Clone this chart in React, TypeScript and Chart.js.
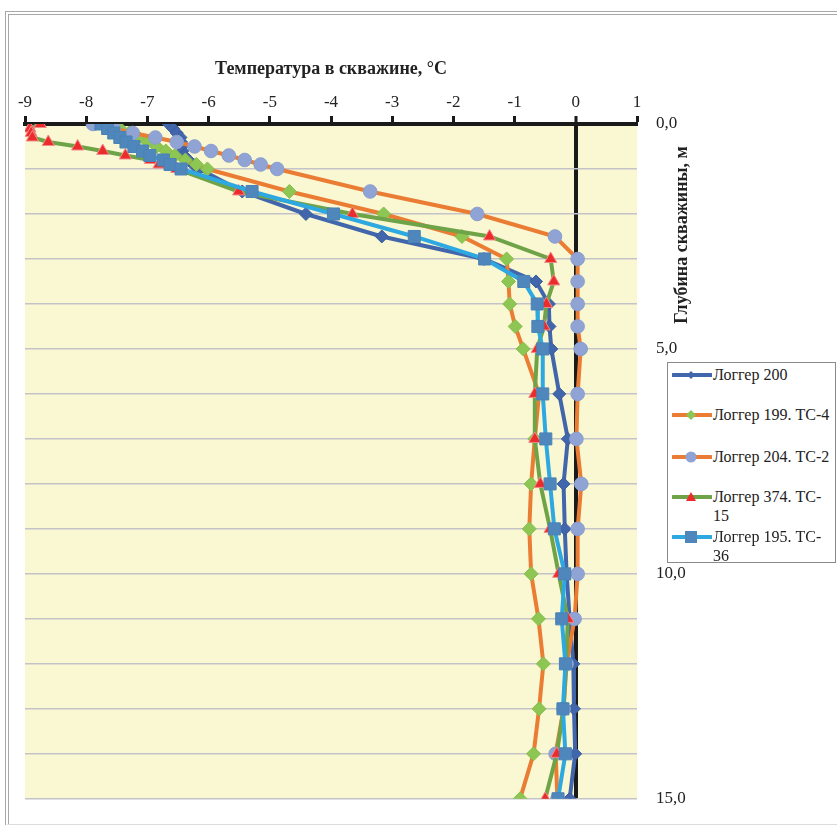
import React, { useEffect, useRef } from 'react';
import { Chart, registerables } from 'chart.js';

Chart.register(...registerables);

// Depth of each measurement, m
const depths = [0, 0.1, 0.2, 0.3, 0.4, 0.5, 0.6, 0.7, 0.8, 0.9, 1.0, 1.5, 2, 2.5, 3, 3.5, 4, 4.5, 5, 6, 7, 8, 9, 10, 11, 12, 13, 14, 15];

// Temperatures, °C
const logger200 = [-6.65, -6.58, -6.52, -6.46, -6.45, -6.44, -6.43, -6.4, -6.33, -6.25, -6.15, -5.45, -4.41, -3.17, -1.5, -0.65, -0.44, -0.43, -0.4, -0.27, -0.13, -0.2, -0.18, -0.15, -0.1, -0.04, -0.03, -0.01, -0.1];
const logger199 = [-7.58, -7.45, -7.3, -7.15, -7.0, -6.85, -6.7, -6.55, -6.38, -6.2, -6.02, -4.68, -3.14, -1.86, -1.13, -1.1, -1.08, -0.99, -0.86, -0.6, -0.67, -0.73, -0.76, -0.73, -0.61, -0.53, -0.6, -0.69, -0.91];
const logger204 = [-7.89, -7.55, -7.24, -6.87, -6.52, -6.23, -5.96, -5.67, -5.41, -5.15, -4.88, -3.36, -1.61, -0.34, 0.03, 0.03, 0.03, 0.03, 0.08, 0.03, 0.01, 0.09, 0.03, 0.03, -0.02, -0.15, -0.2, -0.33, -0.3];
const logger374 = [-8.75, -8.92, -8.9, -8.88, -8.62, -8.14, -7.73, -7.36, -6.95, -6.81, -6.52, -5.51, -3.65, -1.41, -0.41, -0.36, -0.48, -0.52, -0.63, -0.67, -0.67, -0.58, -0.42, -0.28, -0.13, -0.16, -0.2, -0.31, -0.5];
const logger195 = [-7.76, -7.65, -7.55, -7.45, -7.35, -7.22, -7.08, -6.96, -6.74, -6.63, -6.45, -5.29, -3.96, -2.64, -1.49, -0.85, -0.63, -0.62, -0.54, -0.54, -0.49, -0.42, -0.35, -0.18, -0.23, -0.17, -0.21, -0.17, -0.29];

const seriesLabels = ['Логгер 200', 'Логгер 199. ТС-4', 'Логгер 204. ТС-2', 'Логгер 374. ТС-15', 'Логгер 195. ТС-36'];
const legendLines = [['Логгер 200'], ['Логгер 199. ТС-4'], ['Логгер 204. ТС-2'], ['Логгер 374. ТС-', '15'], ['Логгер 195. ТС-', '36']];

const xTitle = 'Температура в скважине, °C';
const yTitle = 'Глубина скважины, м';
const xMin = -9;
const xMax = 1;
const yMin = 0;
const yMax = 15;

const FONT = "'Liberation Serif', 'Times New Roman', serif";

const styles = [
  { line: '#4266AC', marker: '#4266AC', border: '#3A5C9E', shape: 'rectRot', r: 6.5 },
  { line: '#EA7D33', marker: '#8DC653', border: '#86BE4E', shape: 'rectRot', r: 7 },
  { line: '#EA7D33', marker: '#8FA3D4', border: '#8A9ECF', shape: 'circle', r: 6.8 },
  { line: '#6FA347', marker: '#EC2B2B', border: '#F28A8A', shape: 'triangle', r: 7 },
  { line: '#2DA8E0', marker: '#4F87BC', border: '#4A82B6', shape: 'rect', r: 8.5 },
];

const seriesValues = [logger200, logger199, logger204, logger374, logger195];

const bgPlugin = {
  id: 'plotBg',
  beforeDraw(chart: any) {
    const { ctx, chartArea } = chart;
    ctx.save();
    ctx.fillStyle = '#FAF7D3';
    ctx.fillRect(chartArea.left, chartArea.top, chartArea.right - chartArea.left, chartArea.bottom - chartArea.top);
    ctx.restore();
  },
};

const yTitlePlugin = {
  id: 'yTitle',
  afterDraw(chart: any) {
    const { ctx } = chart;
    ctx.save();
    ctx.translate(682, 235);
    ctx.rotate(-Math.PI / 2);
    ctx.font = `bold 18px ${FONT}`;
    ctx.fillStyle = '#222';
    ctx.textAlign = 'center';
    ctx.textBaseline = 'middle';
    ctx.fillText(yTitle, 0, 0);
    ctx.restore();
  },
};

function LegendMarker({ i }: { i: number }) {
  const s = styles[i];
  let shape: any = null;
  const cx = 19, cy = 6;
  if (s.shape === 'rectRot') {
    const r = i === 0 ? 4 : 5;
    shape = <polygon points={`${cx},${cy - r} ${cx + r},${cy} ${cx},${cy + r} ${cx - r},${cy}`} fill={s.marker} />;
  } else if (s.shape === 'circle') {
    shape = <circle cx={cx} cy={cy} r={5.5} fill={s.marker} />;
  } else if (s.shape === 'triangle') {
    shape = <polygon points={`${cx},${cy - 5} ${cx + 5},${cy + 4} ${cx - 5},${cy + 4}`} fill={s.marker} />;
  } else {
    shape = <rect x={cx - 6} y={cy - 6} width={12} height={12} fill={s.marker} />;
  }
  return (
    <svg width={40} height={12} style={{ position: 'absolute', left: 4, top: 4 }}>
      <line x1={1} y1={cy} x2={39} y2={cy} stroke={s.line} strokeWidth={4} strokeLinecap="round" />
      {shape}
    </svg>
  );
}

export default function App() {
  const canvasRef = useRef<HTMLCanvasElement | null>(null);

  useEffect(() => {
    const canvas = canvasRef.current;
    if (!canvas) return;
    const chart = new Chart(canvas, {
      type: 'scatter',
      data: {
        datasets: seriesValues.map((vals, i) => ({
          label: seriesLabels[i],
          data: depths.map((d, j) => ({ x: vals[j], y: d })),
          showLine: true,
          borderColor: styles[i].line,
          borderWidth: 4,
          backgroundColor: styles[i].marker,
          pointBackgroundColor: styles[i].marker,
          pointBorderColor: styles[i].border,
          pointBorderWidth: 1,
          pointStyle: styles[i].shape as any,
          pointRadius: styles[i].r,
          pointHoverRadius: styles[i].r,
          tension: 0,
          order: 5 - i,
        })),
      },
      options: {
        responsive: false,
        animation: false,
        layout: { padding: { left: 25, right: 0, top: 0, bottom: 25 } },
        plugins: { legend: { display: false }, tooltip: { enabled: false } },
        scales: {
          x: {
            type: 'linear',
            position: 'top',
            min: xMin,
            max: xMax,
            afterFit: (s: any) => { s.height = 124; },
            ticks: {
              stepSize: 1,
              padding: 3,
              color: '#222',
              font: { family: FONT, size: 17 },
              callback: (v: any) => String(v),
            },
            grid: {
              color: (c: any) => (c.tick && c.tick.value === 0 ? '#1a1a1a' : 'rgba(0,0,0,0)'),
              lineWidth: (c: any) => (c.tick && c.tick.value === 0 ? 4 : 1),
              tickColor: '#1a1a1a',
              tickLength: 8,
              tickWidth: 3,
              drawTicks: true,
            },
            border: { display: true, color: '#1a1a1a', width: 4 },
            title: {
              display: true,
              text: xTitle,
              color: '#222',
              font: { family: FONT, size: 18, weight: 'bold' },
              padding: { top: 59, bottom: 0 },
            },
          },
          y: {
            type: 'linear',
            position: 'right',
            reverse: true,
            min: yMin,
            max: yMax,
            afterFit: (s: any) => { s.width = 200; },
            ticks: {
              stepSize: 1,
              padding: 19,
              color: '#222',
              font: { family: FONT, size: 17 },
              callback: (v: any) => (Number(v) % 5 === 0 ? Number(v).toFixed(1).replace('.', ',') : ''),
            },
            grid: {
              color: (c: any) => (c.tick && c.tick.value === 0 ? 'rgba(0,0,0,0)' : '#C4C4C8'),
              lineWidth: 1.5,
              drawTicks: false,
            },
            border: { display: false },
          },
        },
      } as any,
      plugins: [bgPlugin, yTitlePlugin],
    });
    return () => chart.destroy();
  }, []);

  const rowTops = [2, 42, 84, 124, 164];

  return (
    <div style={{ position: 'absolute', left: 0, top: 0, width: 837, height: 828, overflow: 'hidden', background: '#fff' }}>
      <div style={{ position: 'absolute', left: 5, top: 11, width: 860, height: 814, borderTop: '4px double #a8a8a8', borderLeft: '4px double #a8a8a8', borderBottom: '1px solid #dcdcdc', boxSizing: 'border-box' }} />
      <canvas ref={canvasRef} width={837} height={828} style={{ position: 'absolute', left: 0, top: 0, display: 'block' }} />
      <div style={{ position: 'absolute', left: 667, top: 362, width: 169, height: 201, border: '1px solid #8a8a8a', background: '#fff', boxSizing: 'border-box', fontFamily: FONT, fontSize: 16, color: '#222' }}>
        {legendLines.map((lines, i) => (
          <div key={i} style={{ position: 'absolute', left: 0, top: rowTops[i], width: 168, height: 40 }}>
            <LegendMarker i={i} />
            <div style={{ position: 'absolute', left: 45, top: 0, lineHeight: '19px', whiteSpace: 'nowrap' }}>
              {lines.map((t, k) => (<div key={k}>{t}</div>))}
            </div>
          </div>
        ))}
      </div>
    </div>
  );
}
